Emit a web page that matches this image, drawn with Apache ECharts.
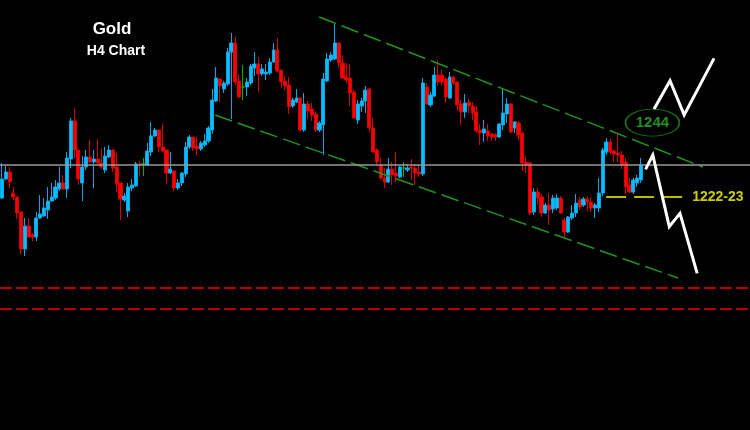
<!DOCTYPE html>
<html>
<head>
<meta charset="utf-8">
<script src="https://cdn.jsdelivr.net/npm/echarts@6/dist/echarts.min.js"></script>
<style>
html,body{margin:0;padding:0;background:#000;}
#chart{width:750px;height:430px;}
</style>
</head>
<body>
<div id="chart"></div>
<script>
// ---- data (Gold, H4) ----
const slotCount = 196; // candle slots across the window (incl. empty future space)
const categories = Array.from({length: slotCount}, (_, i) => String(i + 1));

const opens = [
1222.2,1227.9,1230.0,1223.7,1222.5,1218.0,1206.9,1213.8,1211.1,1210.5,
1216.2,1216.8,1218.6,1221.3,1222.2,1224.9,1226.7,1224.9,1233.9,1245.3,
1236.6,1226.7,1231.5,1234.5,1233.0,1233.9,1232.7,1230.6,1234.5,1236.6,
1231.5,1226.7,1221.6,1218.3,1225.2,1225.8,1232.4,1232.4,1232.1,1236.0,
1240.8,1242.6,1237.5,1236.6,1229.7,1230.3,1225.2,1226.7,1229.4,1237.5,
1240.5,1237.8,1236.9,1238.1,1239.3,1242.6,1251.3,1257.9,1254.9,1256.4,
1266.0,1268.7,1257.3,1255.5,1255.5,1256.7,1261.2,1262.4,1259.4,1259.4,
1259.7,1263.0,1266.6,1260.6,1257.3,1256.1,1249.8,1251.0,1252.2,1242.6,
1250.4,1248.9,1247.4,1242.6,1244.1,1257.3,1263.6,1263.9,1268.7,1262.7,
1258.5,1258.2,1254.0,1245.6,1249.8,1251.3,1254.9,1243.2,1236.6,1232.1,
1228.2,1227.0,1230.9,1229.7,1228.5,1231.2,1230.6,1231.5,1231.2,1230.0,
1229.4,1255.5,1250.1,1252.8,1259.1,1259.1,1257.9,1252.2,1258.5,1257.0,
1250.4,1248.0,1251.0,1249.8,1248.0,1242.6,1241.7,1242.3,1241.4,1241.1,
1240.5,1244.1,1247.4,1250.4,1243.2,1244.7,1241.7,1233.0,1232.7,1218.0,
1224.0,1222.5,1217.7,1220.1,1218.9,1219.2,1222.2,1215.6,1212.0,1216.2,
1217.7,1221.6,1220.1,1221.9,1221.0,1219.2,1219.2,1223.7,1236.0,1239.0,
1236.3,1235.7,1235.1,1233.0,1226.1,1224.0,1226.7,1227.6
];
const closes = [
1227.9,1230.0,1227.0,1222.5,1217.7,1206.9,1213.8,1210.5,1210.5,1216.2,
1217.4,1219.2,1221.3,1222.5,1225.5,1226.7,1224.9,1234.2,1245.3,1236.6,
1227.9,1231.5,1234.5,1233.0,1233.9,1232.7,1231.5,1234.8,1236.6,1231.2,
1226.4,1221.9,1222.8,1225.5,1226.1,1232.4,1232.1,1232.4,1236.3,1240.8,
1242.6,1237.5,1236.3,1229.7,1230.9,1225.2,1226.7,1229.7,1237.5,1240.5,
1237.2,1236.9,1238.7,1239.3,1243.2,1251.6,1258.2,1255.8,1256.7,1266.0,
1268.7,1257.0,1252.5,1255.5,1257.0,1261.8,1262.4,1259.4,1260.9,1260.0,
1263.0,1266.6,1260.3,1257.0,1255.8,1249.5,1251.6,1252.2,1242.6,1250.4,
1248.3,1247.1,1242.6,1244.7,1257.9,1263.9,1265.1,1268.7,1262.7,1258.2,
1257.6,1253.7,1246.2,1250.4,1251.3,1254.6,1243.2,1236.0,1233.0,1228.2,
1227.0,1230.9,1229.1,1228.8,1231.5,1231.2,1231.2,1231.2,1229.7,1229.4,
1256.7,1250.4,1253.1,1259.1,1257.0,1257.0,1252.5,1258.5,1256.7,1250.1,
1248.0,1250.7,1249.8,1247.7,1242.3,1241.7,1242.9,1240.8,1240.5,1240.5,
1244.4,1247.7,1250.4,1242.0,1245.0,1241.1,1232.7,1232.1,1217.7,1224.0,
1222.2,1217.7,1220.1,1218.6,1222.2,1222.2,1217.7,1212.0,1216.5,1217.7,
1220.7,1219.5,1221.9,1221.0,1219.2,1220.1,1223.7,1236.6,1239.0,1236.0,
1235.4,1235.1,1232.1,1225.5,1224.0,1227.6,1228.2,1232.1
];
const lows = [
1221.9,1227.6,1225.2,1221.6,1215.9,1205.4,1204.8,1210.2,1209.3,1209.3,
1215.9,1216.5,1215.9,1221.0,1221.6,1224.3,1224.6,1222.2,1231.2,1234.2,
1226.1,1221.3,1230.6,1232.7,1225.2,1232.4,1230.9,1229.7,1234.2,1230.0,
1224.0,1215.6,1221.0,1216.5,1224.3,1225.5,1228.5,1228.8,1231.8,1234.8,
1240.5,1236.0,1236.0,1226.4,1229.4,1224.3,1224.6,1225.8,1228.5,1236.9,
1236.3,1235.1,1236.3,1237.5,1238.7,1241.4,1251.0,1251.0,1253.7,1255.8,
1245.9,1256.1,1252.2,1251.6,1252.8,1256.1,1258.8,1254.0,1258.8,1257.6,
1259.1,1262.7,1260.0,1255.2,1254.6,1247.4,1249.2,1250.7,1242.3,1242.0,
1245.9,1245.3,1242.0,1242.0,1235.1,1257.0,1263.0,1263.6,1261.2,1257.9,
1256.7,1249.8,1245.9,1244.4,1248.0,1247.7,1242.0,1236.0,1231.8,1227.6,
1225.2,1226.7,1226.1,1227.0,1228.2,1228.5,1230.0,1227.6,1226.1,1228.5,
1228.8,1250.1,1249.5,1252.5,1255.8,1256.1,1250.7,1251.9,1256.1,1248.3,
1244.1,1246.2,1247.7,1245.6,1241.7,1238.1,1239.0,1239.3,1239.3,1239.3,
1240.2,1242.6,1244.7,1241.7,1241.7,1239.6,1230.3,1229.7,1217.1,1217.1,
1220.1,1216.5,1217.4,1214.1,1217.7,1218.6,1217.4,1210.2,1211.7,1215.6,
1216.5,1218.6,1219.5,1218.3,1218.0,1216.2,1218.0,1222.8,1235.1,1235.1,
1233.0,1233.0,1230.9,1223.4,1223.7,1223.4,1225.5,1226.7
];
const highs = [
1232.7,1231.8,1231.5,1225.5,1222.5,1218.0,1216.2,1216.2,1211.7,1218.0,
1223.1,1222.2,1225.5,1226.7,1227.6,1231.5,1229.1,1236.0,1246.2,1248.9,
1236.6,1234.8,1236.6,1239.6,1236.6,1239.9,1236.9,1237.5,1238.1,1236.9,
1235.7,1226.7,1223.7,1226.7,1227.9,1233.0,1233.3,1234.2,1238.7,1245.0,
1243.2,1242.6,1244.4,1236.6,1236.0,1230.3,1227.9,1230.0,1239.0,1241.1,
1240.5,1240.5,1239.3,1241.4,1243.8,1254.9,1261.5,1257.9,1257.3,1267.2,
1271.7,1270.5,1259.4,1262.1,1258.2,1262.4,1266.0,1264.5,1262.4,1262.4,
1264.2,1268.7,1270.2,1260.6,1258.8,1258.5,1252.2,1254.9,1252.2,1253.7,
1251.3,1250.7,1248.0,1245.3,1259.7,1265.7,1266.0,1274.4,1268.7,1265.1,
1262.7,1262.4,1254.6,1251.6,1252.2,1255.8,1255.2,1246.2,1237.2,1234.2,
1231.2,1234.2,1233.0,1236.0,1231.8,1233.0,1232.4,1233.9,1232.4,1232.1,
1258.2,1256.7,1254.0,1261.5,1263.6,1260.6,1258.5,1260.0,1258.8,1257.0,
1251.6,1253.4,1252.2,1251.0,1249.8,1244.4,1245.6,1244.4,1241.7,1241.7,
1244.7,1254.9,1252.2,1250.7,1245.3,1245.3,1241.7,1234.5,1233.0,1225.2,
1225.2,1223.4,1220.7,1223.7,1223.1,1223.4,1222.8,1216.2,1216.8,1220.1,
1223.4,1222.5,1222.5,1222.5,1222.5,1220.7,1228.2,1237.2,1240.2,1239.9,
1236.9,1241.7,1236.3,1234.2,1228.2,1228.2,1229.1,1234.2
];

// levels and annotations: [slot index, price]
const currentPrice = 1232.1;
const redLevels = [1195.3, 1189.0];
const supportLevel = 1222.5;
const supportSpan = [[157.9, 1222.5], [178.0, 1222.5]];
const supportLabel = [[187.1, 1222.5, '1222-23']];
const targetLabel = [[170.0, 1244.8, '1244']];
const channelUpper = [[82.9, 1276.5], [183.2, 1231.5]];
const channelLower = [[55.7, 1247.1], [176.7, 1198.2]];
const pathUp = [[170.4, 1248.8], [174.6, 1257.4], [178.3, 1247.1], [186.1, 1264.1]];
const pathDown = [[168.2, 1230.8], [170.1, 1235.1], [174.4, 1213.6], [177.2, 1217.6], [181.7, 1199.6]];

// ---- build chart ----
const candles = opens.map((o, i) => [o, closes[i], lows[i], highs[i]]);
const FONT = '"Liberation Sans", Arial, sans-serif';
const GREEN = '#1f951f';

const chart = echarts.init(document.getElementById('chart'), null, {renderer: 'canvas', width: 750, height: 430});
chart.setOption({
  backgroundColor: '#000',
  animation: false,
  grid: {left: 0, right: 0, top: 0, bottom: 0, containLabel: false},
  xAxis: [
    {type: 'category', data: categories, boundaryGap: true, show: false},
    {type: 'value', min: -0.5, max: slotCount - 0.5, show: false}
  ],
  yAxis: {type: 'value', min: 1152.6, max: 1281.6, show: false, splitLine: {show: false}},
  graphic: [
    {type: 'text', x: 112, y: 29, z: 100,
     style: {text: 'Gold', fill: '#fff', font: 'bold 17px ' + FONT, align: 'center', verticalAlign: 'middle', textAlign: 'center', textVerticalAlign: 'middle'}},
    {type: 'text', x: 116, y: 51, z: 100,
     style: {text: 'H4 Chart', fill: '#fff', font: 'bold 14px ' + FONT, align: 'center', verticalAlign: 'middle', textAlign: 'center', textVerticalAlign: 'middle'}}
  ],
  series: [
    {
      type: 'line', xAxisIndex: 1, data: [], silent: true, z: 1,
      markLine: {
        silent: true, symbol: ['none', 'none'], label: {show: false},
        data: [
          {yAxis: currentPrice, lineStyle: {color: '#9a9a9a', width: 1.5, type: 'solid'}},
          {yAxis: redLevels[0], lineStyle: {color: '#b80000', width: 2, type: [12, 4]}},
          {yAxis: redLevels[1], lineStyle: {color: '#b80000', width: 2, type: [12, 4]}}
        ]
      }
    },
    {
      type: 'candlestick', xAxisIndex: 0, data: candles, barWidth: 3.6, barMinWidth: 3.6, z: 3,
      large: false,
      itemStyle: {
        color: '#00bfff', borderColor: '#0aa6e6',
        color0: '#ff0000', borderColor0: '#d80000',
        borderColorDoji: '#00b400', borderWidth: 1
      }
    },
    {type: 'line', xAxisIndex: 1, data: channelUpper, symbol: 'none', silent: true, z: 4,
     lineStyle: {color: GREEN, width: 1.5, type: [18, 6]}},
    {type: 'line', xAxisIndex: 1, data: channelLower, symbol: 'none', silent: true, z: 4,
     lineStyle: {color: GREEN, width: 1.5, type: [18, 6]}},
    {type: 'line', xAxisIndex: 1, data: supportSpan, symbol: 'none', silent: true, z: 4,
     lineStyle: {color: '#bcbc00', width: 2, type: [20, 8]}},
    {type: 'line', xAxisIndex: 1, data: pathUp, symbol: 'none', silent: true, z: 5,
     lineStyle: {color: '#ffffff', width: 3, join: 'miter', cap: 'butt'}},
    {type: 'line', xAxisIndex: 1, data: pathDown, symbol: 'none', silent: true, z: 5,
     lineStyle: {color: '#ffffff', width: 3, join: 'miter', cap: 'butt'}},
    {type: 'scatter', xAxisIndex: 1, data: targetLabel, symbol: 'circle', symbolSize: [54, 27], silent: true, z: 6,
     itemStyle: {color: 'rgba(0,0,0,0)', borderColor: GREEN, borderWidth: 1.2},
     label: {show: true, position: 'inside', formatter: p => p.data[2], color: '#2bb52b', fontWeight: 'bold', fontSize: 15, fontFamily: FONT}},
    {type: 'scatter', xAxisIndex: 1, data: supportLabel, symbol: 'circle', symbolSize: 1, silent: true, z: 6,
     itemStyle: {color: 'rgba(0,0,0,0)'},
     label: {show: true, position: 'inside', formatter: p => p.data[2], color: '#ffff00', fontWeight: 'bold', fontSize: 14, fontFamily: FONT}}
  ]
});
</script>
</body>
</html>
